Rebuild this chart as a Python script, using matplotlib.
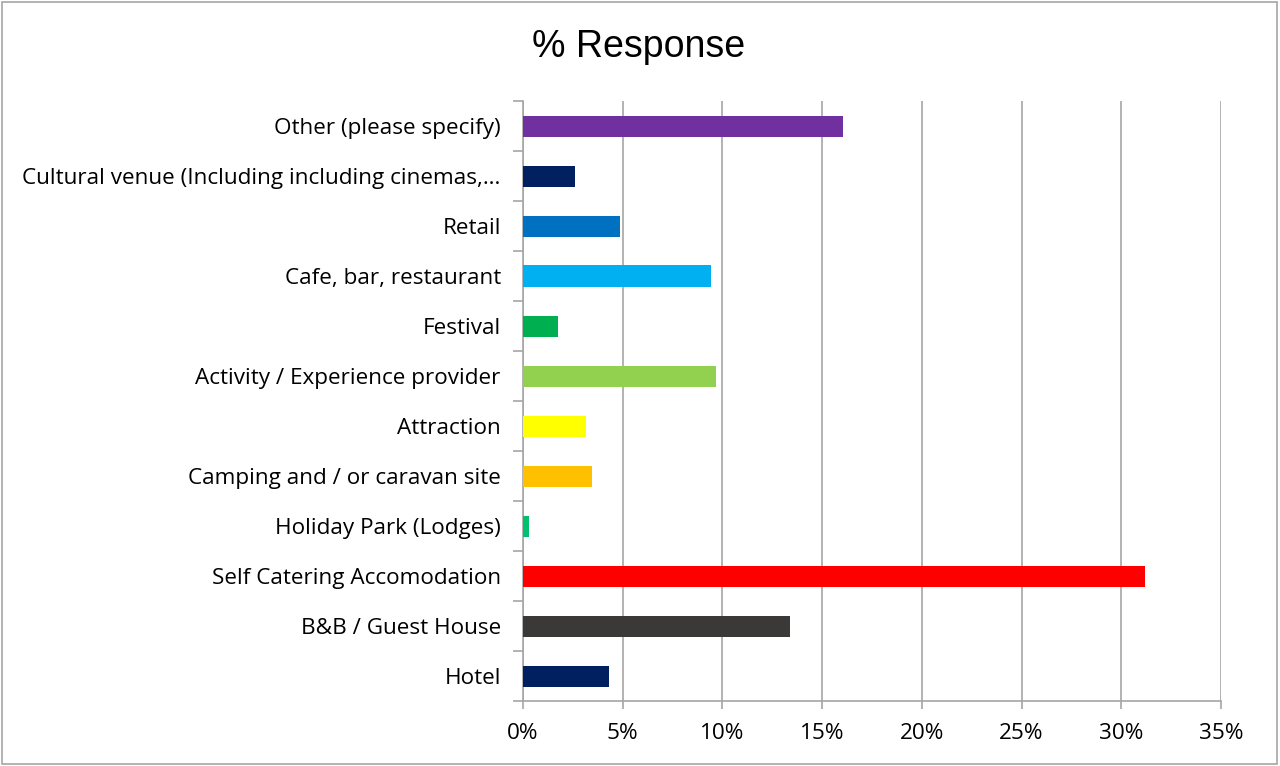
import matplotlib.pyplot as plt
import numpy as np
from matplotlib.patches import Rectangle
from matplotlib.ticker import FuncFormatter, MultipleLocator

# categories listed bottom to top
categories = ['Hotel', 'B&B / Guest House', 'Self Catering Accomodation',
              'Holiday Park (Lodges)', 'Camping and / or caravan site',
              'Attraction', 'Activity / Experience provider', 'Festival',
              'Cafe, bar, restaurant', 'Retail',
              'Cultural venue (Including including cinemas,\u2026',
              'Other (please specify)']
response = [4.3, 13.4, 31.2, 0.3, 3.45, 3.15, 9.7, 1.75, 9.45, 4.85, 2.6, 16.05]
colors = ['#002060', '#3B3838', '#FF0000', '#00C06E', '#FFC000', '#FFFF00',
          '#92D050', '#00B050', '#00B0F0', '#0070C0', '#002060', '#7030A0']

fig = plt.figure(figsize=(12.8, 7.66), dpi=100)
ax = fig.add_axes([523 / 1280, 65 / 766, 698 / 1280, 600 / 766])

y = np.arange(len(categories))
ax.barh(y, response, height=0.42, color=colors, zorder=3)

ax.set_xlim(0, 35)
ax.set_ylim(-0.5, len(categories) - 0.5)
ax.xaxis.set_major_locator(MultipleLocator(5))
ax.xaxis.set_major_formatter(FuncFormatter(lambda v, p: '%d%%' % v))
ax.grid(axis='x', color='#a6a6a6', linewidth=1.2, zorder=0)

ax.set_yticks(y)
ax.set_yticklabels(categories)
ax.set_yticks(np.arange(-0.5, len(categories), 1), minor=True)
ax.tick_params(axis='y', which='major', length=0, pad=16)
ax.tick_params(axis='y', which='minor', length=7, color='#a6a6a6', width=1.2)
ax.tick_params(axis='x', length=6, color='#a6a6a6', width=1.2, pad=10)
for lab in ax.get_yticklabels() + ax.get_xticklabels():
    lab.set_family(['Open Sans', 'DejaVu Sans'])
    lab.set_fontsize(16.2)
    lab.set_color('black')

for s in ['top', 'right']:
    ax.spines[s].set_visible(False)
for s in ['left', 'bottom']:
    ax.spines[s].set_color('#a6a6a6')
    ax.spines[s].set_linewidth(1.2)

fig.text(639 / 1280, 1 - 47 / 766, '% Response', ha='center', va='center',
         fontsize=27, family='Liberation Sans')

# chart border
fig.patches.append(Rectangle((2 / 1280, 2 / 766), 1275 / 1280, 762 / 766,
                             transform=fig.transFigure, fill=False,
                             edgecolor='#a6a6a6', linewidth=1.2))

fig.savefig('out.png', dpi=100)
